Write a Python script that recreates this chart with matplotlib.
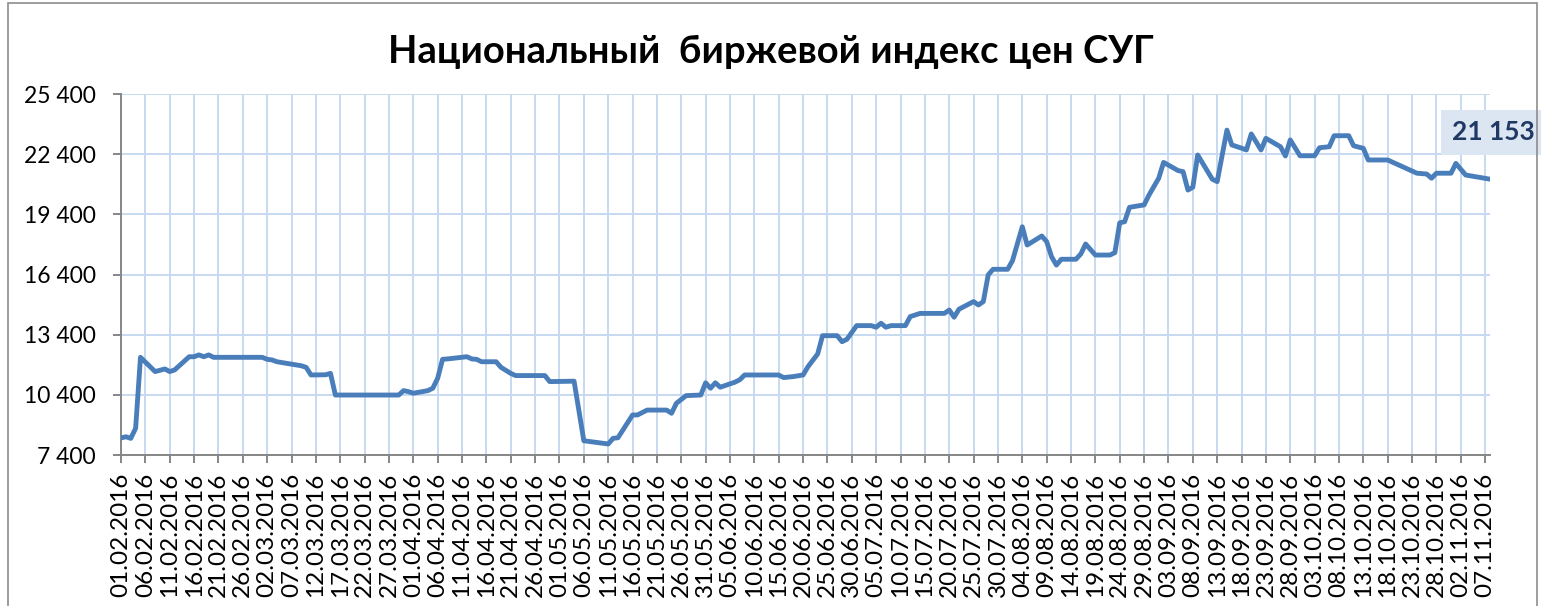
import matplotlib
matplotlib.use("Agg")
import matplotlib.pyplot as plt
import matplotlib.dates as mdates
from matplotlib.ticker import FuncFormatter
from matplotlib.patches import Rectangle
import pandas as pd

plt.rcParams['font.family'] = ['Lato', 'DejaVu Sans']

# index values by trading date (dd.mm.2016)
dates = [
    "01.02", "02.02", "03.02", "04.02", "05.02", "08.02", "10.02", "11.02", "12.02",
    "15.02", "16.02", "17.02", "18.02", "19.02", "20.02", "01.03", "02.03", "03.03",
    "04.03", "09.03", "10.03", "11.03", "14.03", "15.03", "16.03", "29.03", "30.03",
    "31.03", "01.04", "04.04", "05.04", "06.04", "07.04", "08.04", "12.04", "13.04",
    "14.04", "15.04", "18.04", "19.04", "21.04", "22.04", "28.04", "29.04", "04.05",
    "06.05", "11.05", "12.05", "13.05", "16.05", "17.05", "19.05", "23.05", "24.05",
    "25.05", "27.05", "30.05", "31.05", "01.06", "02.06", "03.06", "06.06", "07.06",
    "08.06", "15.06", "16.06", "18.06", "20.06", "21.06", "23.06", "24.06", "27.06",
    "28.06", "29.06", "01.07", "04.07", "05.07", "06.07", "07.07", "08.07", "11.07",
    "12.07", "14.07", "19.07", "20.07", "21.07", "22.07", "25.07", "26.07", "27.07",
    "28.07", "29.07", "01.08", "02.08", "04.08", "05.08", "08.08", "09.08", "10.08",
    "11.08", "12.08", "15.08", "16.08", "17.08", "19.08", "22.08", "23.08", "24.08",
    "25.08", "26.08", "29.08", "30.08", "01.09", "02.09", "05.09", "06.09", "07.09",
    "08.09", "09.09", "12.09", "13.09", "15.09", "16.09", "18.09", "19.09", "20.09",
    "22.09", "23.09", "26.09", "27.09", "28.09", "30.09", "03.10", "04.10", "06.10",
    "07.10", "10.10", "11.10", "13.10", "14.10", "18.10", "20.10", "24.10", "26.10",
    "27.10", "28.10", "31.10", "01.11", "03.11", "08.11",
]
values = [
    8250, 8310, 8230, 8730, 12270, 11560, 11690, 11560, 11640,
    12300, 12300, 12390, 12300, 12390, 12270, 12270, 12170, 12140,
    12050, 11850, 11770, 11390, 11400, 11470, 10390, 10390, 10610,
    10560, 10480, 10610, 10730, 11225, 12170, 12190, 12300, 12190,
    12170, 12050, 12050, 11770, 11470, 11360, 11360, 11060, 11080,
    8110, 7950, 8230, 8260, 9395, 9395, 9640, 9640, 9480,
    9980, 10360, 10390, 11000, 10730, 11000, 10780, 11030, 11150,
    11390, 11390, 11260, 11310, 11390, 11800, 12440, 13350, 13350,
    13050, 13170, 13850, 13850, 13770, 13970, 13770, 13850, 13850,
    14300, 14460, 14460, 14630, 14270, 14670, 15050, 14880, 15050,
    16380, 16660, 16660, 17100, 18780, 17870, 18320, 18040, 17290,
    16870, 17160, 17160, 17420, 17920, 17370, 17370, 17490, 18980,
    19030, 19750, 19870, 20360, 21200, 21990, 21580, 21530, 20610,
    20750, 22360, 21150, 21030, 23600, 22860, 22700, 22610, 23410,
    22610, 23190, 22770, 22310, 23110, 22320, 22320, 22720, 22770,
    23320, 23320, 22820, 22690, 22110, 22110, 21890, 21450, 21410,
    21200, 21450, 21450, 21940, 21360, 21153,
]

y_ticks = [7400, 10400, 13400, 16400, 19400, 22400, 25400]
title = "Национальный  биржевой индекс цен СУГ"
start, end = "01.02.2016", "08.11.2016"

x = pd.to_datetime([d + ".2016" for d in dates], format="%d.%m.%Y")

fig = plt.figure(figsize=(15.41, 6.06), dpi=100)
ax = fig.add_axes([121 / 1541, 1 - 455 / 606, (1490 - 121) / 1541, (455 - 94) / 606])

# chart border
fig.patches.append(Rectangle((8 / 1541, -0.02), (1537 - 8) / 1541, 1.02 - 3 / 606,
                             transform=fig.transFigure, fill=False,
                             edgecolor="#8c8c8c", linewidth=1.2))

ax.plot(x, values, color="#4a7ebb", linewidth=3.5, solid_joinstyle="round",
        solid_capstyle="round", zorder=3)

x0 = pd.to_datetime(start, format="%d.%m.%Y")
x1 = pd.to_datetime(end, format="%d.%m.%Y")
ax.set_xlim(x0, x1)
ax.set_ylim(y_ticks[0], y_ticks[-1])
ax.set_yticks(y_ticks)
ax.yaxis.set_major_formatter(FuncFormatter(lambda v, p: f"{v:,.0f}".replace(",", " ")))

ticks = pd.date_range(x0, x1, freq="5D")
ax.set_xticks(ticks)
ax.xaxis.set_major_formatter(mdates.DateFormatter("%d.%m.%Y"))
plt.setp(ax.get_xticklabels(), rotation=90)

ax.grid(True, color="#c6d9f0", linewidth=1.4, zorder=0)
ax.set_axisbelow(True)
for s in ("top", "right"):
    ax.spines[s].set_visible(False)
for s in ("left", "bottom"):
    ax.spines[s].set_color("#868686")
    ax.spines[s].set_linewidth(1.4)
ax.tick_params(axis="both", colors="#868686", length=6, width=1.4, labelcolor="black")
ax.tick_params(axis="y", labelsize=16.5, pad=12)
ax.tick_params(axis="x", labelsize=17.5, pad=7)

# label for the last value
ax.annotate(f"{values[-1]:,}".replace(",", " "), xy=(x[-1], values[-1]),
            xytext=(3, 47), textcoords="offset pixels", ha="center", va="center",
            fontsize=19, fontweight="bold", color="#1f3864",
            bbox=dict(boxstyle="square,pad=0.4", facecolor="#dce6f2", edgecolor="none"),
            annotation_clip=False, zorder=4)

fig.text(0.5, 1 - 52 / 606, title, ha="center", va="center", fontsize=27.5,
         fontweight="bold")

fig.savefig("out.png", dpi=100)
